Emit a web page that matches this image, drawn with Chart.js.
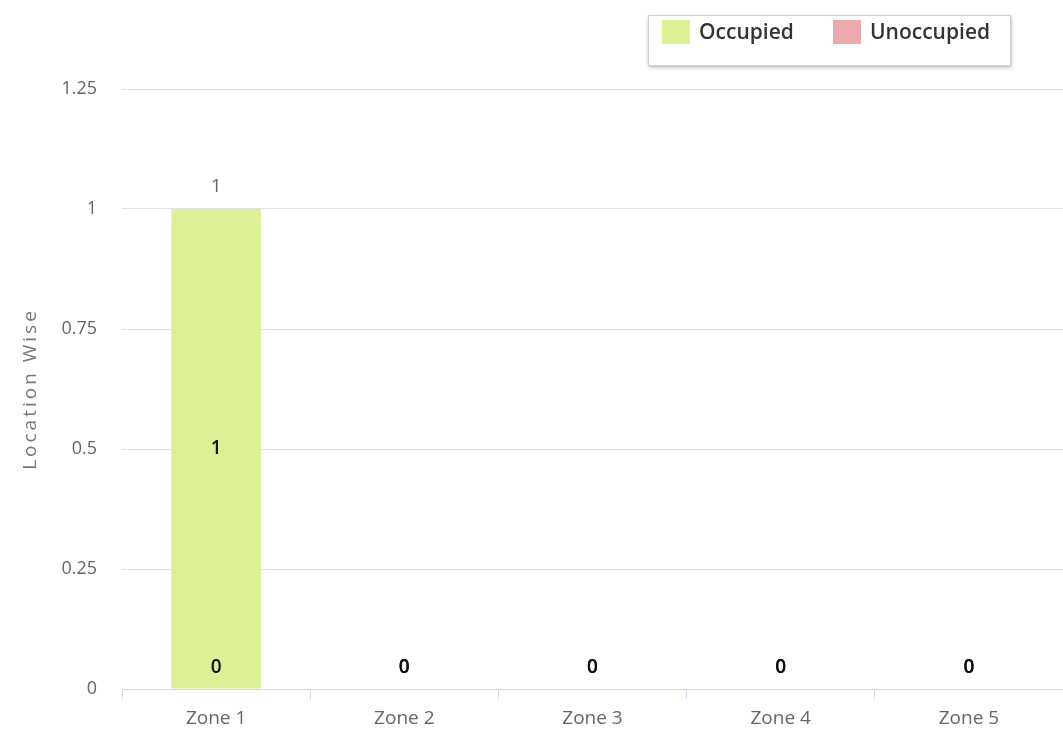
<!DOCTYPE html>
<html>
<head>
<meta charset="utf-8">
<script src="https://cdn.jsdelivr.net/npm/chart.js@4.4.1/dist/chart.umd.min.js"></script>
<style>
    html, body { margin: 0; padding: 0; background: #fff; }
    #wrap { width: 1063px; height: 733px; }
</style>
</head>
<body>
<div id="wrap"><canvas id="zoneChart" width="1063" height="733"></canvas></div>
<script>
// Location wise occupancy per zone
const zones = ['Zone 1', 'Zone 2', 'Zone 3', 'Zone 4', 'Zone 5'];
const occupied = [1, 0, 0, 0, 0];
const unoccupied = [0, 0, 0, 0, 0];
const yTicks = [0, 0.25, 0.5, 0.75, 1, 1.25];
const yTitle = 'Location Wise';

const FONT = "'Open Sans', sans-serif";
const GREEN = '#dcf095';
const PINK = '#eaa9aa';

// Legend box drawn by hand (Highcharts style with a shadow)
const legendBox = {
    id: 'legendBox',
    afterDraw(chart) {
        const ctx = chart.ctx;
        const x = 648, y = 15, w = 362, h = 50;
        ctx.save();
        ctx.shadowColor = 'rgba(0,0,0,0.35)';
        ctx.shadowBlur = 4;
        ctx.shadowOffsetX = 1;
        ctx.shadowOffsetY = 2;
        ctx.fillStyle = '#fff';
        ctx.fillRect(x, y, w, h);
        ctx.restore();
        ctx.save();
        ctx.strokeStyle = '#d0d0d0';
        ctx.lineWidth = 1;
        ctx.strokeRect(x + 0.5, y + 0.5, w, h);

        const items = [
            { label: chart.data.datasets[0].label, color: chart.data.datasets[0].backgroundColor, x: 662 },
            { label: chart.data.datasets[1].label, color: chart.data.datasets[1].backgroundColor, x: 833 }
        ];
        ctx.font = '600 21px ' + FONT;
        ctx.textBaseline = 'middle';
        items.forEach(it => {
            ctx.fillStyle = it.color;
            ctx.fillRect(it.x, 20, 28, 24);
            ctx.fillStyle = '#333';
            ctx.fillText(it.label, it.x + 37, 33);
        });
        ctx.restore();
    }
};

// Rotated y-axis title with wide letter spacing
const axisTitle = {
    id: 'axisTitle',
    afterDraw(chart) {
        const ctx = chart.ctx;
        const area = chart.chartArea;
        ctx.save();
        ctx.translate(31, (area.top + area.bottom) / 2);
        ctx.rotate(-Math.PI / 2);
        ctx.font = '19px ' + FONT;
        ctx.letterSpacing = '3px';
        ctx.fillStyle = '#777';
        ctx.textAlign = 'center';
        ctx.textBaseline = 'middle';
        ctx.fillText(yTitle, 0, 0);
        ctx.restore();
    }
};

// Value labels inside bars and totals above stacks
const valueLabels = {
    id: 'valueLabels',
    afterDatasetsDraw(chart) {
        const ctx = chart.ctx;
        const yScale = chart.scales.y;
        const base = yScale.getPixelForValue(0);
        ctx.save();
        ctx.textAlign = 'center';
        ctx.textBaseline = 'middle';

        chart.data.datasets.forEach((ds, di) => {
            const meta = chart.getDatasetMeta(di);
            meta.data.forEach((bar, i) => {
                const v = ds.data[i];
                const yPos = v === 0 ? base - 21 : (bar.y + bar.base) / 2;
                ctx.font = '600 19px ' + FONT;
                ctx.fillStyle = '#111';
                ctx.fillText(String(v), bar.x, yPos);
            });
        });

        // stack totals
        zones.forEach((z, i) => {
            const total = occupied[i] + unoccupied[i];
            if (total <= 0) return;
            const bar = chart.getDatasetMeta(0).data[i];
            const top = yScale.getPixelForValue(total);
            ctx.font = '19px ' + FONT;
            ctx.fillStyle = '#666';
            ctx.fillText(String(total), bar.x, top - 22);
        });
        ctx.restore();
    }
};

const ctx = document.getElementById('zoneChart').getContext('2d');
const chart = new Chart(ctx, {
    type: 'bar',
    data: {
        labels: zones,
        datasets: [
            {
                label: 'Occupied',
                data: occupied,
                backgroundColor: GREEN,
                borderWidth: 0,
                order: 1,
                barPercentage: 0.9,
                categoryPercentage: 0.53
            },
            {
                label: 'Unoccupied',
                data: unoccupied,
                backgroundColor: PINK,
                borderWidth: 0,
                order: 0,
                barPercentage: 0.9,
                categoryPercentage: 0.53
            }
        ]
    },
    options: {
        responsive: false,
        animation: false,
        layout: { padding: { top: 89, right: 0, left: 0, bottom: 0 } },
        plugins: {
            legend: { display: false },
            tooltip: { enabled: false }
        },
        scales: {
            x: {
                stacked: true,
                afterFit: (scale) => { scale.height = 44; },
                grid: {
                    drawOnChartArea: false,
                    drawTicks: true,
                    tickLength: 10,
                    color: '#ccd6eb',
                    offset: true
                },
                border: { color: '#ccd6eb', width: 1 },
                ticks: {
                    color: '#666',
                    font: { family: FONT, size: 19 },
                    padding: 8
                }
            },
            y: {
                stacked: true,
                min: 0,
                max: 1.25,
                afterBuildTicks: (scale) => {
                    scale.ticks = yTicks.map(v => ({ value: v }));
                },
                afterFit: (scale) => { scale.width = 122; },
                grid: {
                    color: '#e3e3e3',
                    drawTicks: false
                },
                border: { display: false },
                ticks: {
                    color: '#666',
                    font: { family: FONT, size: 18 },
                    padding: 25,
                    callback: (v) => String(v)
                }
            }
        }
    },
    plugins: [legendBox, axisTitle, valueLabels]
});
</script>
</body>
</html>
